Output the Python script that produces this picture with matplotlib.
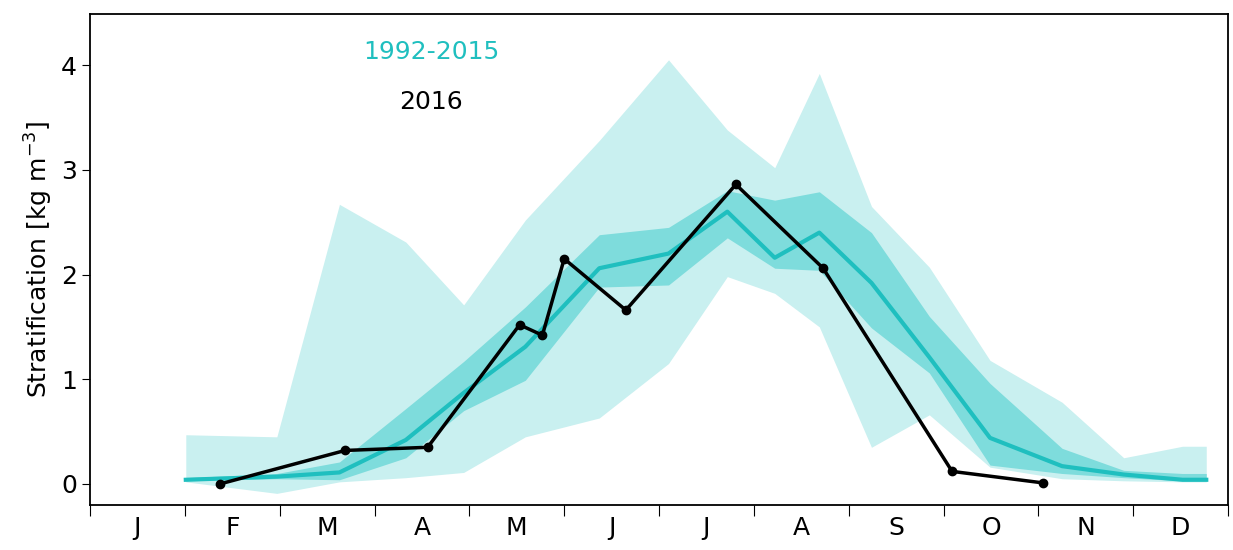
import matplotlib.pyplot as plt

# climatology 1992-2015 (x in months since 1 Jan)
clim_x = [1.01, 1.97, 2.63, 3.33, 3.94, 4.59, 5.37, 6.10, 6.72, 7.22, 7.69, 8.24, 8.85, 9.49, 10.25, 10.90, 11.52, 11.77]
clim_mean = [0.04, 0.07, 0.11, 0.42, 0.87, 1.31, 2.06, 2.20, 2.60, 2.16, 2.40, 1.92, 1.21, 0.44, 0.17, 0.09, 0.04, 0.04]
dark_lo = [0.03, 0.05, 0.04, 0.25, 0.70, 0.99, 1.88, 1.90, 2.35, 2.06, 2.04, 1.49, 1.06, 0.18, 0.10, 0.06, 0.03, 0.03]
dark_hi = [0.06, 0.10, 0.21, 0.72, 1.17, 1.69, 2.38, 2.45, 2.80, 2.71, 2.79, 2.40, 1.60, 0.96, 0.34, 0.13, 0.10, 0.10]
light_lo = [0.02, -0.09, 0.02, 0.06, 0.11, 0.45, 0.63, 1.15, 1.98, 1.82, 1.50, 0.35, 0.66, 0.16, 0.05, 0.03, 0.02, 0.02]
light_hi = [0.47, 0.45, 2.67, 2.31, 1.71, 2.52, 3.28, 4.05, 3.38, 3.02, 3.92, 2.65, 2.07, 1.18, 0.78, 0.25, 0.36, 0.36]

# 2016
obs_x = [1.37, 2.69, 3.56, 4.53, 4.77, 5.00, 5.65, 6.81, 7.73, 9.09, 10.05]
obs_y = [0.00, 0.32, 0.35, 1.52, 1.42, 2.15, 1.66, 2.86, 2.06, 0.12, 0.01]

month_labels = ["J", "F", "M", "A", "M", "J", "J", "A", "S", "O", "N", "D"]

teal = "#1fbfbf"
fig = plt.figure(figsize=(12.33, 5.5), dpi=100)
ax = fig.add_axes([0.073, 0.082, 0.923, 0.893])

ax.fill_between(clim_x, light_lo, light_hi, color="#c9f0f0", lw=0)
ax.fill_between(clim_x, dark_lo, dark_hi, color="#7edcdc", lw=0)
ax.plot(clim_x, clim_mean, color=teal, lw=3)
ax.plot(obs_x, obs_y, color="black", lw=2.5, marker="o", ms=6)

for s in ax.spines.values():
    s.set_linewidth(1.3)

ax.set_xlim(0, 12)
ax.set_ylim(-0.2, 4.49)
ax.set_xticks(range(13))
ax.set_xticklabels([])
ax.set_xticks([i + 0.5 for i in range(12)], minor=True)
ax.set_xticklabels(month_labels, minor=True)
ax.tick_params(axis="x", which="minor", length=0, labelsize=18, pad=8)
ax.tick_params(axis="x", which="major", length=8, direction="out")
ax.set_yticks([0, 1, 2, 3, 4])
ax.tick_params(axis="y", labelsize=18, length=6)
ax.set_ylabel("Stratification [kg m$^{-3}$]", fontsize=18)

ax.text(3.6, 4.12, "1992-2015", color=teal, fontsize=18, ha="center", va="center")
ax.text(3.6, 3.65, "2016", color="black", fontsize=18, ha="center", va="center")

fig.savefig("out.png", dpi=100)
